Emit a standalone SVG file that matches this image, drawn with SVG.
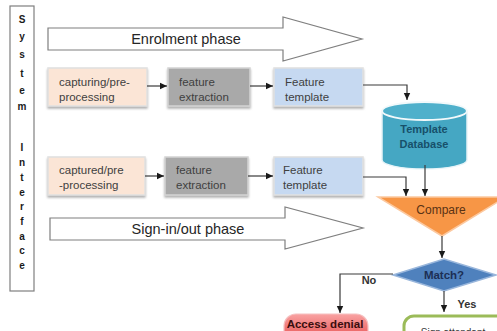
<svg xmlns="http://www.w3.org/2000/svg" width="497" height="331" viewBox="0 0 497 331">
<defs>
<style>
.t{font-family:"Liberation Sans",Arial,sans-serif;fill:#404040;font-size:11.5px}
.ph{font-family:"Liberation Sans",Arial,sans-serif;fill:#262626;font-size:14.5px;text-anchor:middle}
.sys{font-family:"Liberation Sans",Arial,sans-serif;font-weight:bold;font-size:10px;fill:#1a1a1a;text-anchor:middle}
.box{stroke:#e0e0e0;stroke-width:1.5;filter:url(#sh)}
.peach{fill:#fbe5d6}
.gray{fill:#a9a9a9;stroke:#d4d4d4}
.blue{fill:#c6d9f1}
.arrowbig{fill:#fff;stroke:#7f7f7f;stroke-width:1.2}
.con{fill:none;stroke:#3a3a3a;stroke-width:1.2}
.lbl{font-family:"Liberation Sans",Arial,sans-serif;font-weight:bold;font-size:11px;text-anchor:middle}
</style>
<filter id="sh" x="-10%" y="-10%" width="120%" height="140%">
<feDropShadow dx="0" dy="2" stdDeviation="1.3" flood-color="#7f7f7f" flood-opacity="0.6"/>
</filter>
<marker id="ah" markerWidth="8" markerHeight="8" refX="7" refY="4" orient="auto" markerUnits="userSpaceOnUse">
<path d="M0,0.8 L7,4 L0,7.2 Z" fill="#1a1a1a"/>
</marker>
<linearGradient id="red" x1="0" y1="0" x2="0" y2="1">
<stop offset="0" stop-color="#f9a3a3"/>
<stop offset="1" stop-color="#e23c3c"/>
</linearGradient>
</defs>
<rect width="497" height="331" fill="#fff"/>

<g id="system-interface">
<rect x="10" y="6" width="24" height="285" fill="#fff" stroke="#7f7f7f" stroke-width="1.2"/>
<text class="sys" x="22" y="23">S</text>
<text class="sys" x="22" y="40">y</text>
<text class="sys" x="22" y="58">s</text>
<text class="sys" x="22" y="77">t</text>
<text class="sys" x="22" y="94">e</text>
<text class="sys" x="22" y="110">m</text>
<text class="sys" x="22" y="151">I</text>
<text class="sys" x="22" y="166">n</text>
<text class="sys" x="22" y="181">t</text>
<text class="sys" x="22" y="196">e</text>
<text class="sys" x="22" y="210">r</text>
<text class="sys" x="22" y="225">f</text>
<text class="sys" x="22" y="240">a</text>
<text class="sys" x="22" y="254">c</text>
<text class="sys" x="22" y="269">e</text>
</g>

<g id="enrolment-phase">
<polygon class="arrowbig" points="48,28 283,28 283,17 362,39 283,61 283,50 48,50"/>
<text class="ph" x="186" y="44">Enrolment phase</text>
</g>

<g id="signin-phase">
<polygon class="arrowbig" points="50,218 285,218 285,207 363,228 285,249 285,240 50,240"/>
<text class="ph" x="188" y="234">Sign-in/out phase</text>
</g>

<g id="capture1">
<rect class="box peach" x="48" y="68" width="99" height="38"/>
<text class="t" x="59" y="86">capturing/pre-</text>
<text class="t" x="59" y="101">processing</text>
</g>
<g id="extract1">
<rect class="box gray" x="168" y="68" width="82" height="38"/>
<text class="t" x="179" y="86">feature</text>
<text class="t" x="179" y="101">extraction</text>
</g>
<g id="template1">
<rect class="box blue" x="274" y="68" width="89" height="38"/>
<text class="t" x="285" y="86">Feature</text>
<text class="t" x="285" y="101">template</text>
</g>

<g id="capture2">
<rect class="box peach" x="48" y="157" width="97" height="38"/>
<text class="t" x="59" y="174">captured/pre</text>
<text class="t" x="59" y="189">-processing</text>
</g>
<g id="extract2">
<rect class="box gray" x="165" y="157" width="83" height="38"/>
<text class="t" x="176" y="174">feature</text>
<text class="t" x="176" y="189">extraction</text>
</g>
<g id="template2">
<rect class="box blue" x="274" y="157" width="89" height="38"/>
<text class="t" x="283" y="174">Feature</text>
<text class="t" x="283" y="189">template</text>
</g>

<g id="database">
<path d="M382,111 L382,160 A42.5,9 0 0 0 467,160 L467,111 Z" fill="#45a7c3" stroke="#e8f4f8" stroke-width="1.5"/>
<ellipse cx="424.5" cy="111" rx="42.5" ry="9" fill="#4fb0cb" stroke="#f2f9fb" stroke-width="2"/>
<text class="lbl" x="424" y="133" fill="#17506a">Template</text>
<text class="lbl" x="424" y="148" fill="#17506a">Database</text>
</g>

<g id="compare">
<polygon points="378,197 506,197 442,236" fill="#f79646" stroke="#fcc9a0" stroke-width="1.5"/>
<text class="lbl" x="441" y="214" fill="#5a3214" style="font-weight:normal;font-size:12px">Compare</text>
</g>

<g id="match">
<polygon points="393,275 444,259 496,275 444,291" fill="#4f81bd" stroke="#9ab7dc" stroke-width="1.5"/>
<text class="lbl" x="444" y="279" fill="#1c2f55" style="font-size:11.5px">Match?</text>
</g>

<g id="access-denial">
<rect x="284" y="314" width="84" height="32" rx="12" fill="url(#red)" stroke="#f5c0c0" stroke-width="1.2"/>
<text class="lbl" x="325" y="328" fill="#3a0e0e" style="font-size:11.5px">Access denial</text>
</g>

<g id="sign-attendant">
<rect x="404" y="316" width="110" height="32" rx="10" fill="#fff" stroke="#9bbb59" stroke-width="3"/>
<text class="lbl" x="453" y="336" fill="#333" style="font-size:10px;font-weight:normal">Sign attendant</text>
</g>

<g id="connectors">
<line class="con" x1="147" y1="86" x2="167" y2="86" marker-end="url(#ah)"/>
<line class="con" x1="250" y1="86" x2="273" y2="86" marker-end="url(#ah)"/>
<line class="con" x1="145" y1="176" x2="164" y2="176" marker-end="url(#ah)"/>
<line class="con" x1="248" y1="176" x2="273" y2="176" marker-end="url(#ah)"/>
<polyline class="con" points="363,85 407,85 407,100" marker-end="url(#ah)"/>
<polyline class="con" points="363,177 406,177 406,196" marker-end="url(#ah)"/>
<line class="con" x1="425" y1="165" x2="425" y2="196" marker-end="url(#ah)"/>
<line class="con" x1="442" y1="236" x2="442" y2="258" marker-end="url(#ah)"/>
<polyline class="con" points="393,274 340,274 340,313" marker-end="url(#ah)"/>
<line class="con" x1="444" y1="291" x2="444" y2="312" marker-end="url(#ah)"/>
<text class="lbl" x="369" y="284" fill="#333">No</text>
<text class="lbl" x="467" y="308" fill="#333">Yes</text>
</g>
</svg>
